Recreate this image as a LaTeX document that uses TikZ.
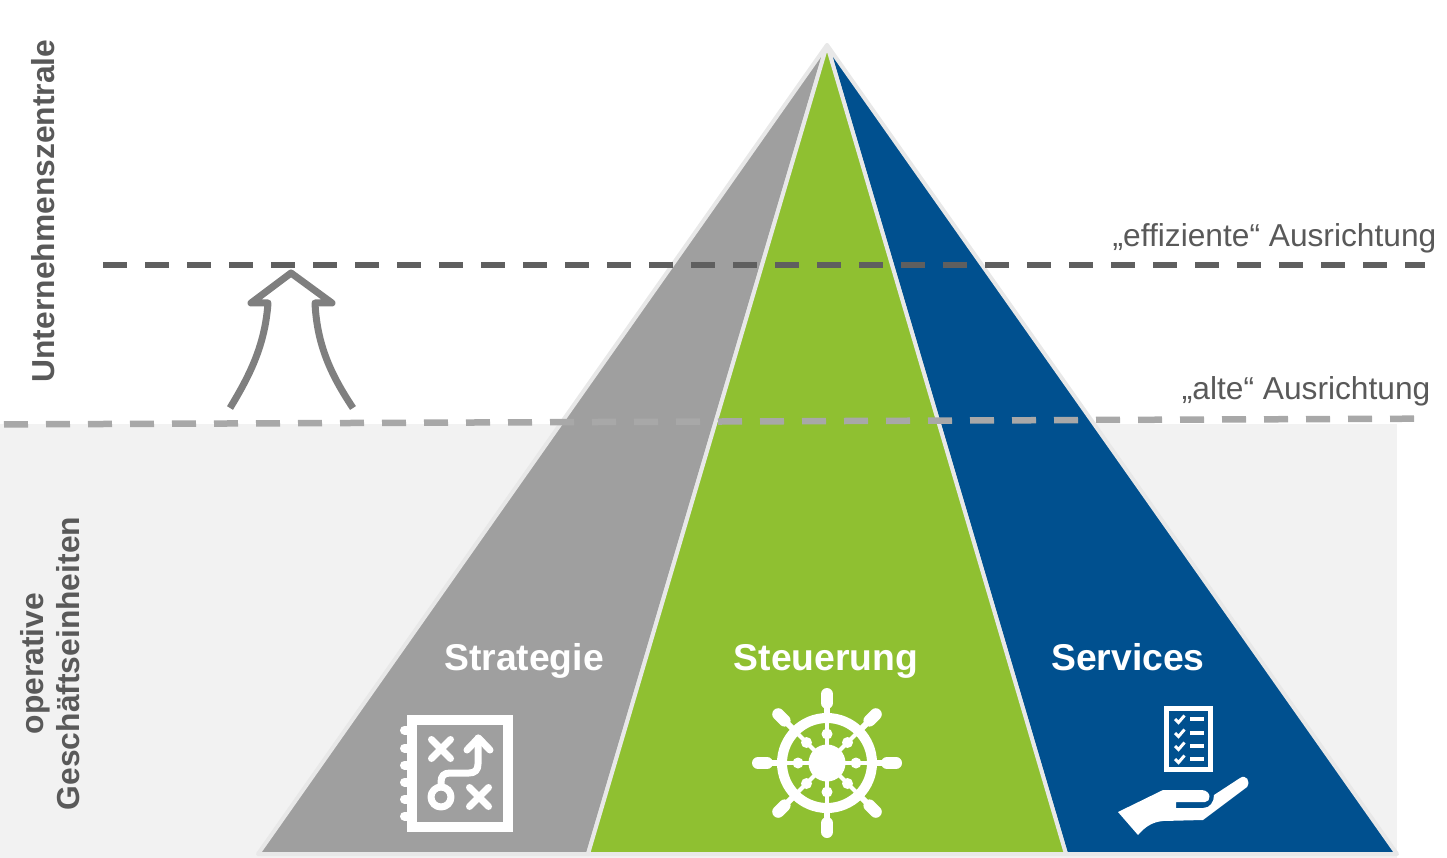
\documentclass[tikz,border=0pt]{standalone}
\usepackage{fontspec}
\setmainfont{Liberation Sans}
\definecolor{bandgray}{HTML}{F2F2F2}
\definecolor{edgegray}{HTML}{E8E8E8}
\definecolor{stratgray}{HTML}{9F9F9F}
\definecolor{steuergreen}{HTML}{8FC031}
\definecolor{serviceblue}{HTML}{00508F}
\definecolor{textgray}{HTML}{595959}
\definecolor{darkline}{HTML}{5F5F5F}
\definecolor{lightline}{HTML}{A8A8A8}
\definecolor{arrowgray}{HTML}{7F7F7F}
\tikzset{
    segment/.style={draw=edgegray, line width=4pt, line join=round},
    level line/.style={line width=6.5pt, dash pattern=on 24pt off 18pt},
    side label/.style={text=textgray, inner sep=0pt, rotate=90, align=center, font=\bfseries\fontsize{31.8}{36}\selectfont},
    level label/.style={text=textgray, inner sep=0pt, anchor=base east, font=\fontsize{31.7}{38}\selectfont},
    pillar label/.style={text=white, inner sep=0pt, anchor=base, font=\bfseries\fontsize{37.3}{44}\selectfont},
    icon line/.style={draw=white, line cap=round, line join=round},
}
\begin{document}
\begin{tikzpicture}[x=1pt, y=-1pt]
    \useasboundingbox (0,0) rectangle (1447,858);
    \fill[bandgray] (0,424) rectangle (1397,858);

    \coordinate (apex) at (827,45);
    \coordinate (base-left) at (258,854);
    \coordinate (base-a) at (588,854);
    \coordinate (base-b) at (1066,854);
    \coordinate (base-right) at (1397,854);
    \filldraw[segment, fill=stratgray] (apex) -- (base-left) -- (base-a) -- cycle;
    \filldraw[segment, fill=serviceblue] (apex) -- (base-b) -- (base-right) -- cycle;
    \filldraw[segment, fill=steuergreen] (apex) -- (base-a) -- (base-b) -- cycle;

    \coordinate (new-start) at (103,264.8);
    \coordinate (new-end) at (1425,264.8);
    \coordinate (old-start) at (4,424.4);
    \coordinate (old-end) at (1414,418.7);
    \draw[level line, darkline] (new-start) -- (new-end);
    \draw[level line, lightline] (old-start) -- (old-end);

    \draw[arrowgray, line width=7pt, line join=round] (230,408) .. controls (250,375) and (265,345) .. (268,303)
        -- (251,303) -- (291,273) -- (332,303) -- (315,303) .. controls (317,345) and (331,375) .. (353,408);

    \node[side label] (central) at (42.8,211) {Unternehmenszentrale};
    \node[side label] (operative) at (50.5,663.5) {operative\\Geschäftseinheiten};
    \node[level label] (efficient) at (1436.5,247) {„effiziente“ Ausrichtung};
    \node[level label] (old) at (1430.5,399) {„alte“ Ausrichtung};
    \node[pillar label] (strategie) at (524,670) {Strategie};
    \node[pillar label] (steuerung) at (826,670) {Steuerung};
    \node[pillar label] (services) at (1128,670) {Services};

    % Strategie
    \draw[white, line width=10.5pt] (412,720) rectangle (508,827);
    \foreach \ringy in {730,748,765,782,799,816}
        \draw[icon line, line width=9pt] (404.5,\ringy) -- (409,\ringy);
    \draw[icon line, line width=7pt] (431.5,739.5) -- (450.5,758.5) (431.5,758.5) -- (450.5,739.5)
        (469.5,787.5) -- (488.5,806.5) (469.5,806.5) -- (488.5,787.5);
    \draw[icon line, line width=7pt] (441,797) circle (10pt);
    \draw[icon line, line width=7pt] (441,787) -- (441,782) .. controls (441,776) and (444,773) .. (450,773)
        -- (469,773) .. controls (475,773) and (478,770) .. (478,764) -- (478,738);
    \draw[icon line, line width=7pt] (467,750) -- (478.5,738) -- (490,750);

    % Steuerung
    \coordinate (wheel) at (827,763);
    \draw[white, line width=10pt] (wheel) circle (45pt);
    \fill[white] (wheel) circle (18.5pt);
    \foreach \spoke in {0,45,...,315} {
        \draw[white, line width=4pt] (wheel) -- ++(\spoke:60pt);
        \draw[icon line, line width=6pt] ([shift={(\spoke:48pt)}]wheel) -- ([shift={(\spoke:58pt)}]wheel);
        \draw[icon line, line width=12pt] ([shift={(\spoke:60pt)}]wheel) -- ([shift={(\spoke:69pt)}]wheel);
        \fill[white] ([shift={(\spoke:29pt)}]wheel) circle (5.5pt);
    }

    % Services
    \draw[white, line width=5pt] (1166.5,708.5) rectangle (1210.5,769.5);
    \foreach \rowy in {719,733,746,759} {
        \draw[white, line width=3pt] (1175,\rowy) -- ++(3.5,3.5) -- ++(6,-7);
        \fill[white] (1190,\rowy-2) rectangle (1204,\rowy+2);
    }
    \fill[white] (1118,812) -- (1163,790) -- (1202,790) .. controls (1212,791) and (1211,802) .. (1205,802)
        -- (1176,802) -- (1176,808) -- (1203,808) .. controls (1210,808) and (1214,802) .. (1214,795)
        -- (1240,778) .. controls (1246,774) and (1251,781) .. (1247,787) -- (1203,820) -- (1163,821)
        .. controls (1152,822) and (1145,827) .. (1138,835) -- cycle;
\end{tikzpicture}
\end{document}
